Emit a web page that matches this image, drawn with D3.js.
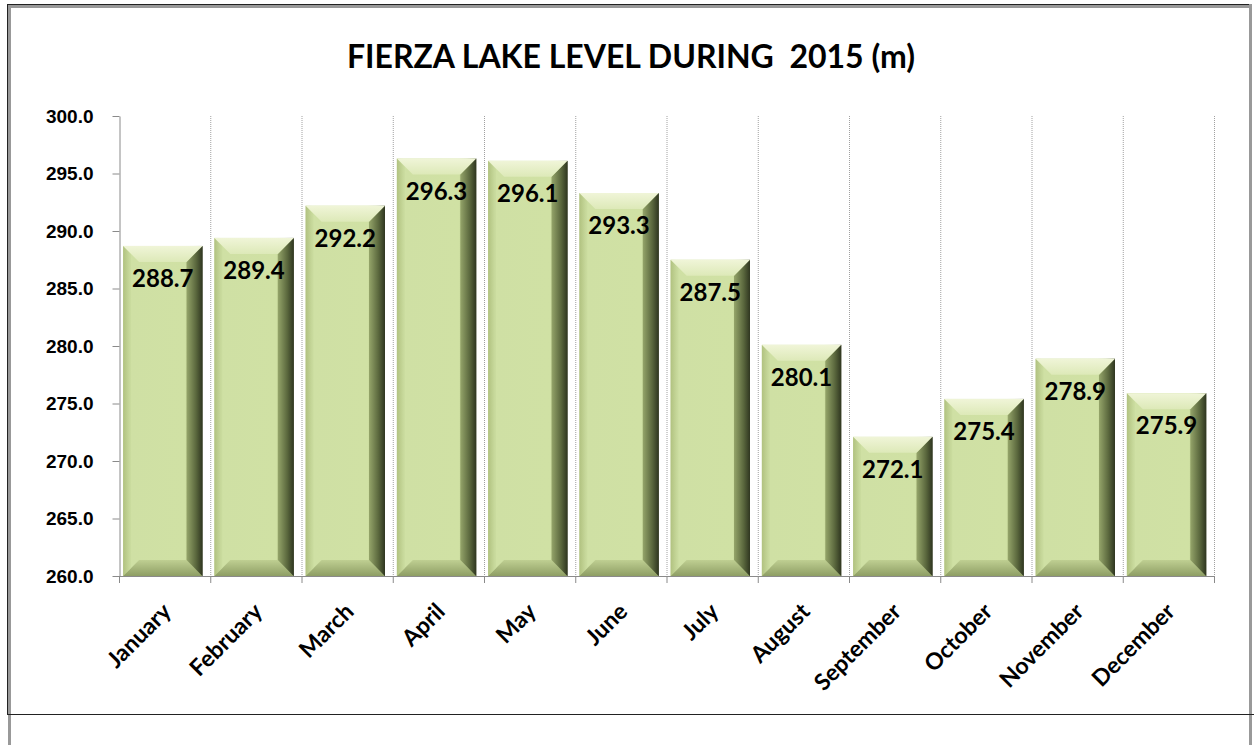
<!DOCTYPE html>
<html>
<head>
<meta charset="utf-8">
<script src="https://cdn.jsdelivr.net/npm/d3@7"></script>
<style>
  html, body { margin: 0; padding: 0; background: #fff; }
  svg { display: block; font-family: Lato, "Open Sans", sans-serif; }
</style>
</head>
<body>
<div class="chart"></div>
<script>
var months = ['January', 'February', 'March', 'April', 'May', 'June',
  'July', 'August', 'September', 'October', 'November', 'December'];
var levels = [288.7, 289.4, 292.2, 296.3, 296.1, 293.3, 287.5, 280.1, 272.1, 275.4, 278.9, 275.9];
var yTicks = [260, 265, 270, 275, 280, 285, 290, 295, 300];
var title = 'FIERZA LAKE LEVEL DURING  2015 (m)';

var data = months.map((m, i) => ({ name: m, value: levels[i] }));

var W = 1254, H = 745;
var margin = { top: 116, right: 40, bottom: 169, left: 119 };
var width = W - margin.left - margin.right;
var height = H - margin.top - margin.bottom;

var svg = d3.select('.chart')
  .append('svg')
    .attr('width', W)
    .attr('height', H);

// frame of the embedded chart
svg.append('rect').attr('x', 0).attr('y', 0).attr('width', W).attr('height', H).attr('fill', '#fff');
svg.append('line').attr('x1', 7).attr('x2', 1251).attr('y1', 4.5).attr('y2', 4.5).attr('stroke', '#222');
svg.append('line').attr('x1', 8).attr('x2', 1251).attr('y1', 6.5).attr('y2', 6.5).attr('stroke', '#999').attr('stroke-width', 3);
svg.append('line').attr('x1', 7.5).attr('x2', 7.5).attr('y1', 4).attr('y2', 715).attr('stroke', '#222');
svg.append('line').attr('x1', 9.5).attr('x2', 9.5).attr('y1', 5).attr('y2', H).attr('stroke', '#999').attr('stroke-width', 3);
svg.append('line').attr('x1', 1250.5).attr('x2', 1250.5).attr('y1', 4).attr('y2', H).attr('stroke', '#999').attr('stroke-width', 3);
svg.append('line').attr('x1', 7).attr('x2', W).attr('y1', 714.5).attr('y2', 714.5).attr('stroke', '#222');

var defs = svg.append('defs');

function grad(id, vertical, stops) {
  var g = defs.append('linearGradient')
    .attr('id', id)
    .attr('x1', '0%').attr('y1', '0%')
    .attr('x2', vertical ? '0%' : '100%')
    .attr('y2', vertical ? '100%' : '0%');
  stops.forEach(s => g.append('stop').attr('offset', s[0]).attr('stop-color', s[1]));
}
grad('body', false, [['0%', '#bccd88'], ['8%', '#cfe0a4'], ['78%', '#d0e1a4'], ['88%', '#b4c488'], ['95%', '#748250'], ['100%', '#3c4526']]);
grad('topBevel', true, [['0%', '#f0f5d8'], ['100%', '#dde9b8']]);
grad('botBevel', true, [['0%', '#bfcf92'], ['100%', '#8e9e64']]);
grad('rightBevel', false, [['0%', '#95a56a'], ['60%', '#5a673d'], ['100%', '#2f3620']]);
grad('leftBevel', false, [['0%', '#a9ba7a'], ['100%', '#c8da9c']]);

var g = svg.append('g')
  .attr('transform', `translate(${margin.left}, ${margin.top})`);

var xCat = d3.scaleBand()
  .domain(months)
  .range([0, width])
  .padding(0);

var yScale = d3.scaleLinear()
  .domain([260, 300])
  .range([height, 0]);

// dotted category gridlines
g.append('g')
  .selectAll('line')
  .data(months)
  .enter()
  .append('line')
    .attr('x1', d => xCat(d) + xCat.bandwidth() + 0.5)
    .attr('x2', d => xCat(d) + xCat.bandwidth() + 0.5)
    .attr('y1', 0)
    .attr('y2', height)
    .attr('stroke', '#a0a0a0')
    .attr('stroke-dasharray', '1,1');

// y axis
var yAxis = g.append('g')
  .attr('transform', 'translate(0.5, 0)')
  .call(d3.axisLeft(yScale).tickValues(yTicks).tickFormat(d3.format('.1f')).tickSize(7).tickSizeOuter(0));
yAxis.select('.domain').attr('stroke', '#8a8a8a');
yAxis.selectAll('.tick line').attr('stroke', '#8a8a8a');
yAxis.selectAll('.tick text')
  .attr('x', -26)
  .attr('fill', '#000')
  .style('font-size', '19px')
  .style('font-weight', 'bold');

// x axis baseline and ticks at category boundaries
g.append('line')
  .attr('x1', 0).attr('x2', width)
  .attr('y1', height + 0.5).attr('y2', height + 0.5)
  .attr('stroke', '#8a8a8a');
g.append('g')
  .selectAll('line')
  .data([null].concat(months))
  .enter()
  .append('line')
    .attr('x1', d => (d === null ? 0 : xCat(d) + xCat.bandwidth()) + 0.5)
    .attr('x2', d => (d === null ? 0 : xCat(d) + xCat.bandwidth()) + 0.5)
    .attr('y1', height)
    .attr('y2', height + 7)
    .attr('stroke', '#8a8a8a');

// bevelled bars
var bw = xCat.bandwidth() * 0.87;
var off = xCat.bandwidth() * 0.045;
var bev = 16;

var bars = g.selectAll('.bar')
  .data(data)
  .enter()
  .append('g')
    .attr('class', 'bar');

bars.each(function (d) {
  var el = d3.select(this);
  var x0 = xCat(d.name) + off, x1 = x0 + bw;
  var y0 = yScale(d.value), y1 = height;
  el.append('rect')
    .attr('x', x0).attr('y', y0).attr('width', bw).attr('height', y1 - y0)
    .attr('fill', 'url(#body)');
  el.append('polygon')
    .attr('points', [[x0, y1], [x1, y1], [x1 - bev, y1 - bev], [x0 + bev, y1 - bev]].join(' '))
    .attr('fill', 'url(#botBevel)');
  el.append('polygon')
    .attr('points', [[x1, y0], [x1, y1], [x1 - bev, y1 - bev], [x1 - bev, y0 + bev]].join(' '))
    .attr('fill', 'url(#rightBevel)');
  el.append('polygon')
    .attr('points', [[x0, y0], [x0, y1], [x0 + bev * 0.5, y1 - bev * 0.5], [x0 + bev * 0.5, y0 + bev * 0.5]].join(' '))
    .attr('fill', 'url(#leftBevel)')
    .attr('opacity', 0.6);
  el.append('polygon')
    .attr('points', [[x0, y0], [x1, y0], [x1 - bev, y0 + bev], [x0 + bev, y0 + bev]].join(' '))
    .attr('fill', 'url(#topBevel)');
  el.append('text')
    .attr('x', x0 + bw / 2)
    .attr('y', y0 + 41)
    .attr('text-anchor', 'middle')
    .style('font-size', '24px')
    .style('font-weight', 'bold')
    .attr('fill', '#000')
    .text(d.value.toFixed(1));
});

// rotated month labels
g.append('g')
  .selectAll('text')
  .data(months)
  .enter()
  .append('text')
    .attr('transform', d => `translate(${xCat(d) + xCat.bandwidth() / 2 + 8}, ${height + 37}) rotate(-45)`)
    .attr('text-anchor', 'end')
    .style('font-size', '23px')
    .style('font-weight', 'bold')
    .attr('fill', '#000')
    .text(d => d);

// title
svg.append('text')
  .attr('x', 631)
  .attr('y', 68)
  .attr('text-anchor', 'middle')
  .style('font-size', '32px')
  .style('font-weight', 'bold')
  .style('white-space', 'pre')
  .attr('fill', '#000')
  .text(title);
</script>
</body>
</html>
